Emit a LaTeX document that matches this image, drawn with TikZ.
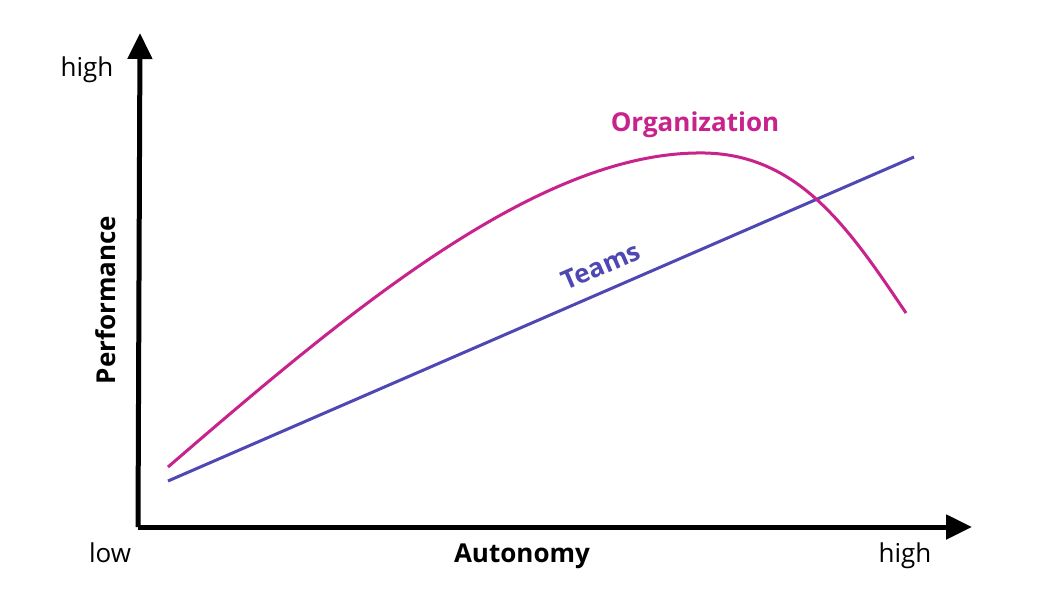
\documentclass[tikz,border=0pt]{standalone}
\usepackage{fontspec}
\setmainfont{Open Sans}
\usetikzlibrary{arrows.meta}
\definecolor{org}{HTML}{C8228C}
\definecolor{team}{HTML}{4F47B3}
\begin{document}
\begin{tikzpicture}[x=1pt,y=-1pt,
  axis/.style={line width=5pt,-{Triangle[length=26pt,width=24pt]}},
  lbl/.style={font=\fontsize{26}{30}\selectfont},
  blbl/.style={font=\fontsize{26}{30}\selectfont\bfseries}]
\useasboundingbox[fill=white] (0,0) rectangle (1056,610);
\coordinate (ytip) at (140,33);
\coordinate (xtip) at (972,527);
\draw[axis] (138,527) -- (ytip);
\draw[axis] (138,527) -- (xtip);
\node[lbl] (yh) at (87,70) {high};
\node[lbl] (xl) at (110,553) {low};
\node[lbl] (xh) at (905,556) {high};
\node[blbl] (xa) at (522,556) {Autonomy};
\node[blbl,rotate=90] (ya) at (106,300) {Performance};
\coordinate (t0) at (168,481);
\coordinate (t1) at (914,157);
\draw[team,line width=3pt] (t0) -- (t1);
\node[team,blbl,rotate=23.5,inner sep=1pt] (tl) at (601,266) {Teams};
\coordinate (c0) at (168,467);
\coordinate (cp) at (705,153);
\coordinate (c1) at (906,313);
\draw[org,line width=3pt] (c0) .. controls (350,310) and (540,150) .. (cp) .. controls (800,155) and (850,230) .. (c1);
\node[org,blbl] (ol) at (695,125) {Organization};
\end{tikzpicture}
\end{document}
